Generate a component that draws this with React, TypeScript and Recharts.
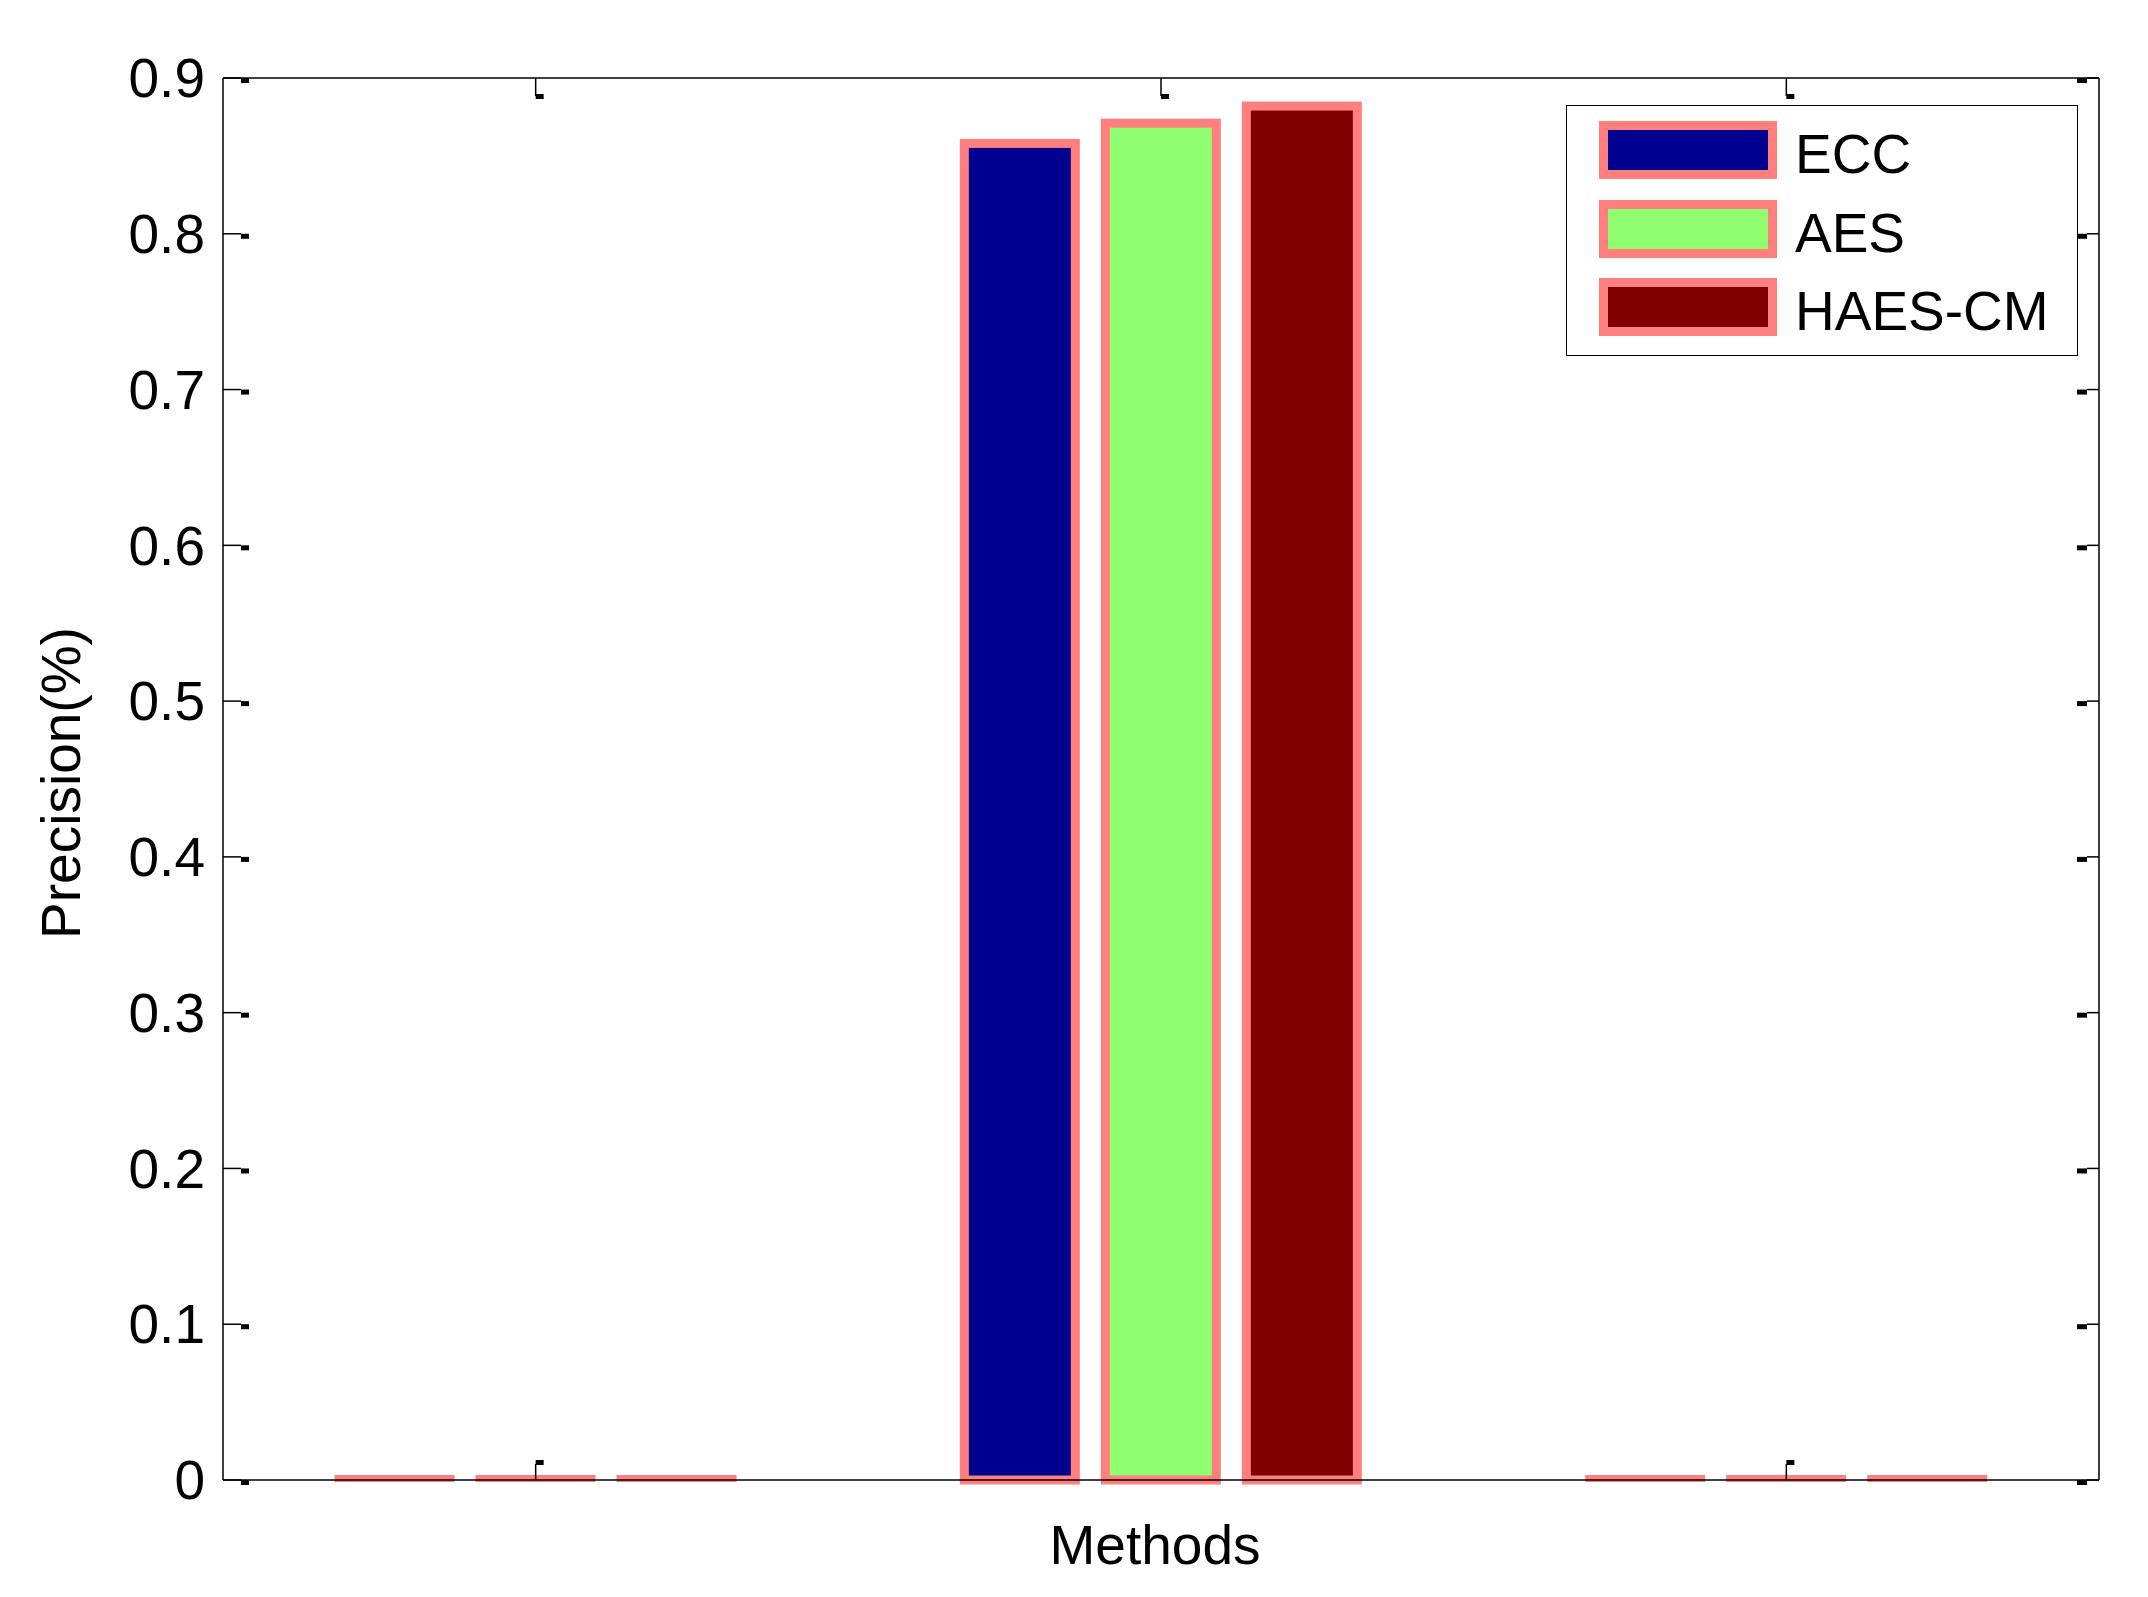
import React from 'react'
import { BarChart, Bar, XAxis, YAxis, Legend } from 'recharts'

// group labels (not printed on the axis in the original)
const categories = ['1', '2', '3']
const eccValues = [0, 0.858, 0]
const aesValues = [0, 0.871, 0]
const haesValues = [0, 0.882, 0]
const yTicks = [0, 0.1, 0.2, 0.3, 0.4, 0.5, 0.6, 0.7, 0.8, 0.9]

const seriesNames = ['ECC', 'AES', 'HAES-CM']
const seriesColors = ['#00008F', '#8FFF70', '#800000']
const EDGE = '#FF7F7F'
const FONT = '"Liberation Sans", Arial, sans-serif'

const data = categories.map((name, i) => ({
  name,
  ECC: eccValues[i],
  AES: aesValues[i],
  'HAES-CM': haesValues[i],
}))

// bar with salmon edge; zero-height bars still show as a flat strip like matlab does
const BarShape = (props: any) => {
  const { x, y, width, height, fill } = props
  if (!height || height < 1) {
    return <rect x={x - 4.5} y={y - 5} width={width + 9} height={7} fill={EDGE} />
  }
  return <rect x={x} y={y} width={width} height={height} fill={fill} stroke={EDGE} strokeWidth={9} />
}

const LeftTick = (props: any) => {
  const { x, y, payload } = props
  return (
    <g>
      <line x1={x} y1={y} x2={x + 18} y2={y} stroke="#000" strokeWidth={1.5} />
      <rect x={x + 18} y={y} width={8} height={5} fill="#000" />
      <text x={x - 18} y={y} dy="0.35em" textAnchor="end" fontSize={55} fontFamily={FONT} fill="#000">
        {String(payload.value)}
      </text>
    </g>
  )
}

const RightTick = (props: any) => {
  const { x, y } = props
  return (
    <g>
      <line x1={x} y1={y} x2={x - 12} y2={y} stroke="#000" strokeWidth={1.5} />
      <rect x={x - 22} y={y} width={10} height={5} fill="#000" />
    </g>
  )
}

const TopTick = (props: any) => {
  const { x, y } = props
  return (
    <g>
      <line x1={x} y1={y} x2={x} y2={y + 18} stroke="#000" strokeWidth={1.5} />
      <rect x={x} y={y + 16} width={8} height={5} fill="#000" />
    </g>
  )
}

const BottomTick = (props: any) => {
  const { x, y, index } = props
  if (index === 1) return <g />
  return (
    <g>
      <line x1={x} y1={y} x2={x} y2={y - 16} stroke="#000" strokeWidth={1.5} />
      <rect x={x} y={y - 20} width={8} height={5} fill="#000" />
    </g>
  )
}

const YLabel = (props: any) => {
  const { viewBox } = props
  const cx = viewBox.x - 142
  const cy = viewBox.y + viewBox.height / 2 + 4
  return (
    <text x={cx} y={cy} textAnchor="middle" transform={`rotate(-90, ${cx}, ${cy})`} fontSize={55} fontFamily={FONT} fill="#000">
      Precision(%)
    </text>
  )
}

const XLabel = (props: any) => {
  const { viewBox } = props
  const cx = viewBox.x + viewBox.width / 2 - 6
  return (
    <text x={cx} y={viewBox.y + 84} textAnchor="middle" fontSize={55} fontFamily={FONT} fill="#000">
      Methods
    </text>
  )
}

const LegendBox = () => (
  <div style={{ width: 512, height: 251, border: '1.5px solid #000', background: '#fff', position: 'relative', boxSizing: 'border-box', fontFamily: FONT }}>
    {seriesNames.map((s, i) => (
      <div key={s} style={{ position: 'absolute', left: 32, top: 15 + i * 78.5, display: 'flex', alignItems: 'center' }}>
        <div style={{ width: 160, height: 40, border: `9px solid ${EDGE}`, background: seriesColors[i] }} />
        <span style={{ marginLeft: 18, fontSize: 55, lineHeight: '58px', position: 'relative', top: 4, color: '#000' }}>{s}</span>
      </div>
    ))}
  </div>
)

const App = () => {
  return (
    <div style={{ position: 'absolute', left: 0, top: 0, width: 2148, height: 1597, background: '#fff', fontFamily: FONT }}>
      <BarChart
        width={2148}
        height={1597}
        data={data}
        margin={{ top: 77, right: 48, bottom: 116, left: 222 }}
        barSize={111}
        barGap={30}
      >
        <XAxis
          dataKey="name"
          height={1}
          interval={0}
          tickSize={0}
          tickMargin={0}
          tickLine={false}
          tick={<BottomTick />}
          axisLine={{ stroke: '#000', strokeWidth: 1.5 }}
          label={<XLabel />}
        />
        <XAxis
          xAxisId="top"
          orientation="top"
          dataKey="name"
          height={1}
          interval={0}
          tickSize={0}
          tickMargin={0}
          tickLine={false}
          tick={<TopTick />}
          axisLine={{ stroke: '#000', strokeWidth: 1.5 }}
        />
        <YAxis
          width={1}
          domain={[0, 0.9]}
          ticks={yTicks}
          interval={0}
          tickSize={0}
          tickMargin={0}
          tickLine={false}
          tick={<LeftTick />}
          axisLine={{ stroke: '#000', strokeWidth: 1.5 }}
          label={<YLabel />}
        />
        <YAxis
          yAxisId="right"
          orientation="right"
          type="number"
          width={1}
          domain={[0, 0.9]}
          allowDataOverflow
          ticks={yTicks}
          interval={0}
          tickSize={0}
          tickMargin={0}
          tickLine={false}
          tick={<RightTick />}
          axisLine={{ stroke: '#000', strokeWidth: 1.5 }}
        />
        <Legend
          layout="vertical"
          align="center"
          verticalAlign="middle"
          content={<LegendBox />}
          wrapperStyle={{ left: 1566, top: 105, width: 512, height: 251 }}
        />
        {seriesNames.map((s, i) => (
          <Bar key={s} dataKey={s} name={s} fill={seriesColors[i]} shape={BarShape} isAnimationActive={false} />
        ))}
      </BarChart>
    </div>
  )
}

export default App
